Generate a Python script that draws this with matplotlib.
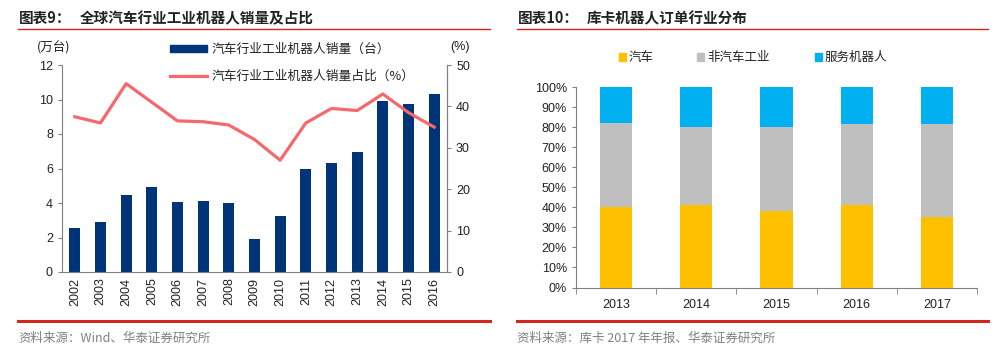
import matplotlib
matplotlib.use("Agg")
import matplotlib.pyplot as plt
from matplotlib.lines import Line2D
from matplotlib.patches import Rectangle
import numpy as np

plt.rcParams["font.family"] = ["Liberation Sans", "Noto Sans CJK SC", "DejaVu Sans"]

# 左图：全球汽车行业工业机器人销量及占比
years_l = ["2002", "2003", "2004", "2005", "2006", "2007", "2008", "2009",
           "2010", "2011", "2012", "2013", "2014", "2015", "2016"]
sales = [2.55, 2.9, 4.45, 4.9, 4.05, 4.1, 4.0, 1.9, 3.25, 5.95, 6.3, 6.95, 9.9, 9.75, 10.3]
share = [37.5, 36.0, 45.5, 41.0, 36.5, 36.3, 35.5, 32.0, 27.0, 36.0, 39.5, 39.0, 43.0, 38.5, 35.0]

# 右图：库卡机器人订单行业分布
years_r = ["2013", "2014", "2015", "2016", "2017"]
auto = [40, 41, 38, 41, 35]
non_auto = [42, 39, 42, 40.5, 46.5]
service = [18, 20, 20, 18.5, 18.5]

NAVY = "#003478"
SALMON = "#F4696B"
YELLOW = "#FFC000"
GREY = "#BFBFBF"
BLUE = "#00B0F0"
RED = "#D0281E"
TXT = "#222222"

fig = plt.figure(figsize=(10, 3.53), dpi=100)
W, H = 1000, 353


def fx(x):
    return x / W


def fy(y):
    return 1 - y / H


cjk = ["Noto Sans CJK SC", "Liberation Sans"]

# 标题与分隔线
for x0, x1 in [(18, 490), (517, 988)]:
    fig.add_artist(Line2D([fx(x0), fx(x1)], [fy(29), fy(29)], color=RED, lw=1.0))
    fig.add_artist(Line2D([fx(x0), fx(x1)], [fy(321), fy(321)], color=RED, lw=2.2))

fig.text(fx(19), fy(18), "图表9：", family=cjk, fontsize=10.5, weight="bold", va="center", color=TXT)
fig.text(fx(80), fy(18), "全球汽车行业工业机器人销量及占比", family=cjk, fontsize=10.5,
         weight="bold", va="center", color=TXT)
fig.text(fx(518), fy(18), "图表10：", family=cjk, fontsize=10.5, weight="bold", va="center", color=TXT)
fig.text(fx(587), fy(18), "库卡机器人订单行业分布", family=cjk, fontsize=10.5,
         weight="bold", va="center", color=TXT)

fig.text(fx(18), fy(338), "资料来源：Wind、华泰证券研究所", family=cjk, fontsize=9,
         va="center", color="#808080")
fig.text(fx(517), fy(338), "资料来源：库卡 2017 年年报、华泰证券研究所", family=cjk, fontsize=9,
         va="center", color="#808080")

# ---- 左图 ----
ax = fig.add_axes([fx(62), fy(272), fx(385), (272 - 65) / H])
x = np.arange(len(years_l))
ax.bar(x, sales, width=0.42, color=NAVY, zorder=2)
ax.set_xlim(-0.5, len(years_l) - 0.5)
ax.set_ylim(0, 12)
ax.set_yticks(range(0, 13, 2))
ax.set_xticks(x)
ax.set_xticklabels(years_l, rotation=90)
ax.spines["top"].set_visible(False)
for s in ["left", "bottom", "right"]:
    ax.spines[s].set_color("#808080")
    ax.spines[s].set_linewidth(0.8)
ax.tick_params(axis="both", labelsize=9, colors="#808080", labelcolor=TXT, length=3)
ax.tick_params(axis="x", length=0, pad=4)

ax2 = ax.twinx()
ax2.plot(x, share, color=SALMON, lw=2.3, zorder=3)
ax2.set_ylim(0, 50)
ax2.set_yticks(range(0, 51, 10))
for s in ["top", "left", "bottom"]:
    ax2.spines[s].set_visible(False)
ax2.spines["right"].set_color("#808080")
ax2.spines["right"].set_linewidth(0.8)
ax2.tick_params(axis="y", labelsize=9, colors="#808080", labelcolor=TXT, length=3)

fig.text(fx(37), fy(48), "(万台)", family=cjk, fontsize=9, va="center", color=TXT)
fig.text(fx(450), fy(47), "(%)", fontsize=9, va="center", color=TXT)

# 左图图例
fig.add_artist(Rectangle((fx(170), fy(52)), fx(37), 7 / H, color=NAVY))
fig.text(fx(212), fy(49), "汽车行业工业机器人销量（台）", family=cjk, fontsize=9.2,
         va="center", color=TXT)
fig.add_artist(Line2D([fx(170), fx(207)], [fy(76), fy(76)], color=SALMON, lw=2.3))
fig.text(fx(212), fy(76), "汽车行业工业机器人销量占比（%）", family=cjk, fontsize=9.2,
         va="center", color=TXT)

# ---- 右图 ----
bx = fig.add_axes([fx(576), fy(287.5), fx(401), (287.5 - 87) / H])
xr = np.arange(len(years_r))
bottom2 = np.array(auto) + np.array(non_auto)
bx.bar(xr, auto, width=0.4, color=YELLOW, zorder=2)
bx.bar(xr, non_auto, width=0.4, bottom=auto, color=GREY, zorder=2)
bx.bar(xr, service, width=0.4, bottom=bottom2, color=BLUE, zorder=2)
bx.set_xlim(-0.5, len(years_r) - 0.5)
bx.set_ylim(0, 100)
bx.set_yticks(range(0, 101, 10))
bx.set_yticklabels([f"{v}%" for v in range(0, 101, 10)])
bx.set_xticks(xr)
bx.set_xticklabels(years_r)
bx.set_xticks(np.arange(-0.5, len(years_r)), minor=True)
for s in ["top", "right"]:
    bx.spines[s].set_visible(False)
for s in ["left", "bottom"]:
    bx.spines[s].set_color("#808080")
    bx.spines[s].set_linewidth(0.8)
bx.tick_params(axis="y", labelsize=9, colors="#808080", labelcolor=TXT, length=3)
bx.tick_params(axis="x", which="major", labelsize=9, length=0, pad=8, labelcolor=TXT)
bx.tick_params(axis="x", which="minor", length=4, colors="#808080")

# 右图图例
for xs, label, c in [(622, "汽车", YELLOW), (700, "非汽车工业", GREY), (818, "服务机器人", BLUE)]:
    fig.add_artist(Rectangle((fx(xs - 3.5), fy(60.5)), 7 / W, 7 / H, color=c))
    fig.text(fx(xs + 7), fy(57), label, family=cjk, fontsize=9, va="center", color=TXT)

fig.savefig("out.png", dpi=100)
